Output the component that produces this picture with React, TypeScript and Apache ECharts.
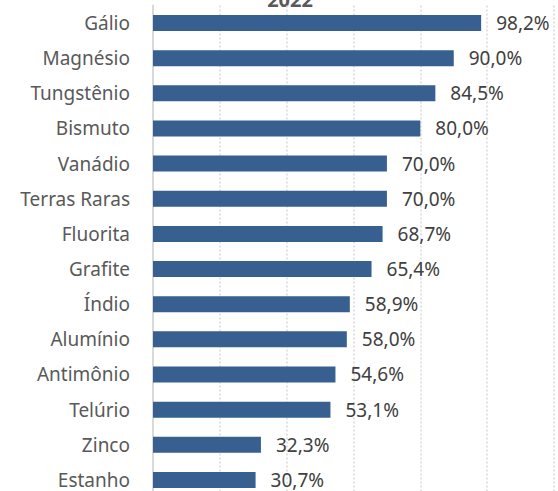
import React, { useEffect, useRef } from "react";
import * as echarts from "echarts";

const categories = [
  "Gálio",
  "Magnésio",
  "Tungstênio",
  "Bismuto",
  "Vanádio",
  "Terras Raras",
  "Fluorita",
  "Grafite",
  "Índio",
  "Alumínio",
  "Antimônio",
  "Telúrio",
  "Zinco",
  "Estanho",
];
const values = [98.2, 90.0, 84.5, 80.0, 70.0, 70.0, 68.7, 65.4, 58.9, 58.0, 54.6, 53.1, 32.3, 30.7];
const titleText = "2022";

export default function App() {
  const ref = useRef<HTMLDivElement>(null);
  useEffect(() => {
    if (!ref.current) return;
    const chart = echarts.init(ref.current, null, { renderer: "svg" });
    const font = "'Noto Sans', 'Open Sans', sans-serif";
    chart.setOption({
      animation: false,
      backgroundColor: "#ffffff",
      graphic: [
        {
          type: "text",
          x: 290,
          y: -1,
          style: {
            text: titleText,
            fontFamily: font,
            fontSize: 20,
            fontWeight: "bold",
            fill: "#595959",
            align: "center",
            verticalAlign: "middle",
          },
        },
      ],
      grid: { left: 153, right: 4, top: 5.4, bottom: 2.5, containLabel: false },
      xAxis: {
        type: "value",
        min: 0,
        max: 120,
        interval: 20,
        axisLabel: { show: false },
        axisLine: { show: false },
        axisTick: { show: false },
        splitLine: { show: true, lineStyle: { color: "#d9d9d9", type: [2, 2], width: 1.5 } },
      },
      yAxis: {
        type: "category",
        data: categories,
        inverse: true,
        axisTick: { show: false },
        axisLine: { show: true, lineStyle: { color: "#d9d9d9", width: 2 } },
        axisLabel: { color: "#595959", fontFamily: font, fontSize: 19, margin: 23 },
      },
      series: [
        {
          type: "bar",
          data: values,
          barWidth: 16,
          itemStyle: { color: "#375f90" },
          label: {
            show: true,
            position: "right",
            distance: 15,
            color: "#404040",
            fontFamily: font,
            fontSize: 19,
            formatter: (p: any) => p.value.toFixed(1).replace(".", ",") + "%",
          },
        },
      ],
    });
    return () => chart.dispose();
  }, []);
  return (
    <div style={{ position: "fixed", left: 0, top: 0, width: 558, height: 491, overflow: "hidden" }}>
      <div ref={ref} style={{ width: 558, height: 500 }} />
    </div>
  );
}
